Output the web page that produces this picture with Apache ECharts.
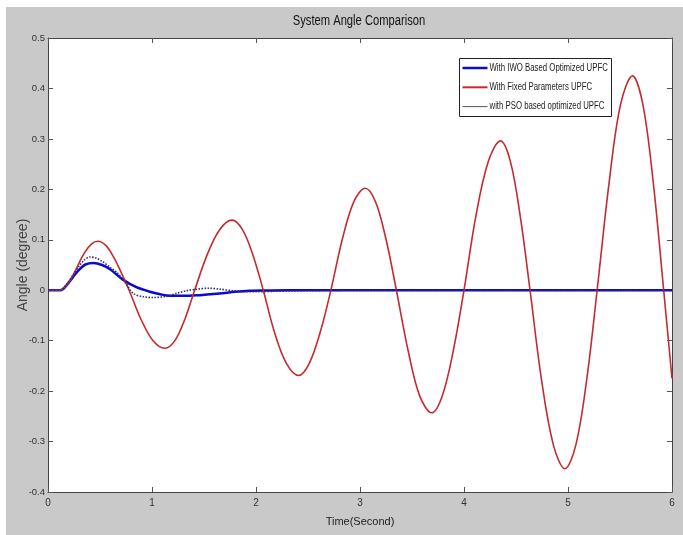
<!DOCTYPE html>
<html>
<head>
<meta charset="utf-8">
<title>System Angle Comparison</title>
<script src="https://cdn.jsdelivr.net/npm/echarts@6/dist/echarts.min.js"></script>
<style>
  html, body { margin: 0; padding: 0; background: #ffffff; }
  #chart { width: 683px; height: 535px; }
</style>
</head>
<body>
<div id="chart"></div>
<script>
// Time samples (s) and rotor angle (degree) for each controller setting
const fixedTime = [0, 0.10, 0.13, 0.2, 0.27, 0.35, 0.42, 0.48, 0.56, 0.63, 0.70, 0.78,
  0.895, 1.01, 1.125, 1.22, 1.315, 1.41, 1.53, 1.65, 1.77, 1.87, 1.97, 2.07,
  2.18, 2.295, 2.41, 2.51, 2.615, 2.72, 2.83, 2.94, 3.05, 3.15, 3.25, 3.35,
  3.465, 3.575, 3.69, 3.79, 3.895, 4.0, 4.115, 4.235, 4.35, 4.445, 4.54, 4.635,
  4.745, 4.86, 4.97, 5.075, 5.18, 5.28, 5.395, 5.505, 5.62, 5.72, 5.82, 5.92, 6.0];
const fixedAngle = [0, 0, 0.001, 0.015, 0.042, 0.074, 0.092, 0.097, 0.088, 0.066, 0.037, 0,
  -0.058, -0.1, -0.115, -0.1, -0.058, 0, 0.07, 0.12, 0.139, 0.12, 0.07, 0,
  -0.085, -0.146, -0.169, -0.146, -0.085, 0, 0.101, 0.175, 0.202, 0.175, 0.101, 0,
  -0.122, -0.21, -0.243, -0.21, -0.122, 0, 0.148, 0.256, 0.296, 0.256, 0.148, 0,
  -0.177, -0.307, -0.354, -0.307, -0.177, 0, 0.213, 0.368, 0.425, 0.368, 0.213, 0, -0.175];

const iwoTime = [0, 0.12, 0.18, 0.24, 0.30, 0.36, 0.436, 0.52, 0.60, 0.72, 0.85, 0.98,
  1.08, 1.17, 1.30, 1.43, 1.55, 1.65, 1.80, 1.94, 2.1, 2.3, 2.6, 3.0, 6.0];
const iwoAngle = [0, 0, 0.01, 0.026, 0.041, 0.051, 0.054, 0.05, 0.041, 0.021, 0.006, -0.003,
  -0.008, -0.011, -0.011, -0.01, -0.008, -0.0065, -0.003, -0.001, -0.0005, 0, 0, 0, 0];

const psoTime = [0, 0.12, 0.18, 0.24, 0.30, 0.35, 0.40, 0.46, 0.53, 0.60, 0.66, 0.74,
  0.82, 0.92, 1.01, 1.14, 1.24, 1.33, 1.43, 1.54, 1.66, 1.78, 1.9, 2.0, 2.2, 2.5, 3.0, 6.0];
const psoAngle = [0, 0, 0.012, 0.03, 0.048, 0.06, 0.066, 0.064, 0.056, 0.045, 0.036, 0.016,
  -0.0065, -0.013, -0.0145, -0.012, -0.006, -0.001, 0.002, 0.004, 0.002, -0.001, -0.003,
  -0.003, -0.002, -0.001, 0, 0];

const seriesNames = ['With IWO Based Optimized UPFC', 'With Fixed Parameters UPFC', 'with PSO based optimized UPFC'];
const xTicks = [0, 1, 2, 3, 4, 5, 6];
const yTicks = [-0.4, -0.3, -0.2, -0.1, 0, 0.1, 0.2, 0.3, 0.4, 0.5];

const zip = (t, v) => t.map((x, i) => [x, v[i]]);

const sans = "'Liberation Sans', Arial, sans-serif";
const frame = '#444444';
const colors = { iwo: '#0a0ad0', fixed: '#c42a2e', pso: '#2b2b6e' };

// Legend box drawn by hand so the condensed lettering can be reproduced
const legendRows = [
  { name: seriesNames[0], color: colors.iwo, width: 2.5 },
  { name: seriesNames[1], color: colors.fixed, width: 2 },
  { name: seriesNames[2], color: '#555560', width: 1 }
];
const legendGraphic = {
  type: 'group', left: 459, top: 58, z: 100,
  children: [
    { type: 'rect', shape: { x: 0, y: 0, width: 152, height: 58 },
      style: { fill: '#ffffff', stroke: '#222222', lineWidth: 1 } }
  ].concat(legendRows.flatMap((r, i) => [
    { type: 'line', shape: { x1: 3, y1: 9.5 + i * 19.3, x2: 28, y2: 9.5 + i * 19.3 },
      style: { stroke: r.color, lineWidth: r.width } },
    { type: 'text', x: 30, y: 9.5 + i * 19.3, scaleX: 0.78,
      style: { text: r.name, font: '10px ' + sans, fill: '#222', verticalAlign: 'middle' } }
  ]))
};

const chart = echarts.init(document.getElementById('chart'), null, { renderer: 'canvas' });

const baseX = {
  type: 'value', min: xTicks[0], max: xTicks[xTicks.length - 1], interval: 1,
  axisLine: { show: true, onZero: false, lineStyle: { color: frame, width: 1 } },
  axisTick: { show: true, inside: true, length: 5, lineStyle: { color: '#555' } },
  splitLine: { show: false }
};
const baseY = {
  type: 'value', min: yTicks[0], max: yTicks[yTicks.length - 1], interval: 0.1,
  axisLine: { show: true, onZero: false, lineStyle: { color: frame, width: 1 } },
  axisTick: { show: true, inside: true, length: 5, lineStyle: { color: '#555' } },
  splitLine: { show: false }
};

chart.setOption({
  animation: false,
  backgroundColor: '#ffffff',
  graphic: [
    { type: 'rect', z: -10, silent: true,
      shape: { x: 6, y: 7, width: 677, height: 528 },
      style: { fill: '#c9c9c9' } },
    { type: 'text', x: 359, y: 21, scaleX: 0.8, z: 50,
      style: { text: 'System Angle Comparison', font: '14px ' + sans, fill: '#111',
        align: 'center', verticalAlign: 'middle' } },
    legendGraphic
  ],
  grid: {
    left: 48, right: 11, top: 38, bottom: 43,
    containLabel: false, outerBoundsMode: 'none',
    show: true, backgroundColor: '#ffffff', borderWidth: 0
  },
  xAxis: [
    Object.assign({}, baseX, {
      position: 'bottom',
      name: 'Time(Second)', nameLocation: 'middle', nameGap: 24, nameMoveOverlap: false,
      nameTextStyle: { fontFamily: sans, fontSize: 11, color: '#222' },
      axisLabel: { show: true, margin: 6, fontFamily: sans, fontSize: 10, color: '#333' }
    }),
    Object.assign({}, baseX, { position: 'top', axisLabel: { show: false } })
  ],
  yAxis: [
    Object.assign({}, baseY, {
      position: 'left',
      name: 'Angle (degree)', nameLocation: 'middle', nameGap: 18, nameMoveOverlap: false,
      nameTextStyle: { fontFamily: sans, fontSize: 14, color: '#444' },
      axisLabel: { show: true, margin: 3, fontFamily: sans, fontSize: 9.5, color: '#333',
        formatter: v => String(+v.toFixed(1)) }
    }),
    Object.assign({}, baseY, { position: 'right', axisLabel: { show: false } })
  ],
  series: [
    {
      name: seriesNames[0], type: 'line', xAxisIndex: 0, yAxisIndex: 0,
      data: zip(iwoTime, iwoAngle), smooth: 0.3, symbol: 'none',
      itemStyle: { color: colors.iwo },
      lineStyle: { color: colors.iwo, width: 2.5 }
    },
    {
      name: seriesNames[1], type: 'line', xAxisIndex: 0, yAxisIndex: 0,
      data: zip(fixedTime, fixedAngle), smooth: 0.35, symbol: 'none',
      itemStyle: { color: colors.fixed },
      lineStyle: { color: colors.fixed, width: 1.6 }
    },
    {
      name: seriesNames[2], type: 'line', xAxisIndex: 0, yAxisIndex: 0,
      data: zip(psoTime, psoAngle), smooth: 0.3, symbol: 'none',
      itemStyle: { color: colors.pso },
      lineStyle: { color: colors.pso, width: 1.6, type: [1.5, 1.5] }
    }
  ]
});
</script>
</body>
</html>
